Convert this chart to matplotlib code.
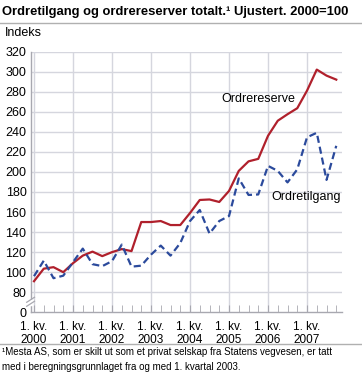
import matplotlib
matplotlib.use("Agg")
import matplotlib.pyplot as plt

plt.rcParams["font.family"] = ["Liberation Sans", "DejaVu Sans"]

# Quarterly index, 2000 Q1 .. 2007 Q4 (2000=100)
YEARS = list(range(2000, 2008))
ORDRERESERVE = [91, 103.5, 105, 100, 109, 116.5, 120.5, 116,
                120, 123, 121, 150, 150, 151, 147, 147,
                159, 172, 172.5, 170, 181, 201, 210.5, 213,
                236, 251, 257.5, 263.5, 281, 302, 296, 292]
ORDRETILGANG = [96, 111.5, 94, 96.5, 110, 123.5, 108, 106,
                111, 127.5, 105.5, 106.5, 117.5, 126.5, 116.5, 129,
                151, 162, 138.5, 151, 156, 193.5, 177, 177.5,
                206, 201, 189.5, 202.5, 234.5, 239, 192, 226]
Y_TICKS = [80, 100, 120, 140, 160, 180, 200, 220, 240, 260, 280, 300, 320]
BREAK_POS = 60  # the "0" label sits one step below 80 (broken axis)

RED = "#b0202c"
BLUE = "#2b4a9c"
GRID = "#d5d6de"
AXIS = "#a8a8b0"

fig = plt.figure(figsize=(3.62, 3.79), dpi=100, facecolor="white")
ax = fig.add_axes([0.0848, 0.176, 0.944 - 0.0848, 0.864 - 0.176])

x = list(range(len(ORDRERESERVE)))
ax.plot(x, ORDRERESERVE, color=RED, linewidth=1.6, zorder=3)
ax.plot(x, ORDRETILGANG, color=BLUE, linewidth=1.6, linestyle=(0, (3.2, 1.8)), zorder=3)

ax.set_xlim(-0.34, 31.56)
ax.set_ylim(BREAK_POS, 320)

ax.set_yticks([BREAK_POS] + Y_TICKS)
ax.set_yticklabels(["0"] + [str(v) for v in Y_TICKS])
for v in Y_TICKS:
    ax.axhline(v, color=GRID, linewidth=1.0, zorder=1)
for i in range(0, len(x), 4):
    ax.axvline(i, color=GRID, linewidth=1.0, zorder=1)

ax.set_xticks(range(0, len(x), 4))
ax.set_xticklabels([f"1. kv.\n{y}" for y in YEARS], fontsize=8.5, linespacing=1.15)
ax.set_xticks(range(len(x)), minor=True)
ax.tick_params(axis="x", which="both", direction="in", length=5, color=AXIS, pad=6)
ax.tick_params(axis="y", length=0, labelsize=9, pad=3)

for side in ("top", "right"):
    ax.spines[side].set_visible(False)
for side in ("left", "bottom"):
    ax.spines[side].set_color(AXIS)
    ax.spines[side].set_linewidth(1.0)

# axis break marks between 0 and 80
for dy in (0, 4):
    ax.plot([-0.75, 0.05], [66 + dy, 71 + dy], color=AXIS, linewidth=0.9,
            clip_on=False, zorder=4)
ax.plot([-0.34, -0.34], [68.5, 71.5], color="white", linewidth=2.5,
        clip_on=False, zorder=3.5)

ax.text(23.0, 273, "Ordrereserve", fontsize=9, ha="center", va="center")
ax.text(31.45, 175, "Ordretilgang", fontsize=9, ha="right", va="center")

fig.text(0.005, 0.968, "Ordretilgang og ordrereserver totalt.\u00b9 Ujustert. 2000=100",
         fontsize=9.4, fontweight="bold", ha="left", va="center")
fig.add_artist(plt.Line2D([0, 1], [0.940, 0.940], color="#b0b0b0", linewidth=1.0))
fig.text(0.014, 0.912, "Indeks", fontsize=9, ha="left", va="center")

fig.add_artist(plt.Line2D([0, 1], [0.092, 0.092], color="#b0b0b0", linewidth=1.0))
fig.text(0.005, 0.071, "\u00b9Mesta AS, som er skilt ut som et privat selskap fra Statens vegvesen, er tatt",
         fontsize=7, ha="left", va="center")
fig.text(0.005, 0.031, "med i beregningsgrunnlaget fra og med 1. kvartal 2003.",
         fontsize=7, ha="left", va="center")

fig.savefig("out.png", dpi=100, facecolor="white")
